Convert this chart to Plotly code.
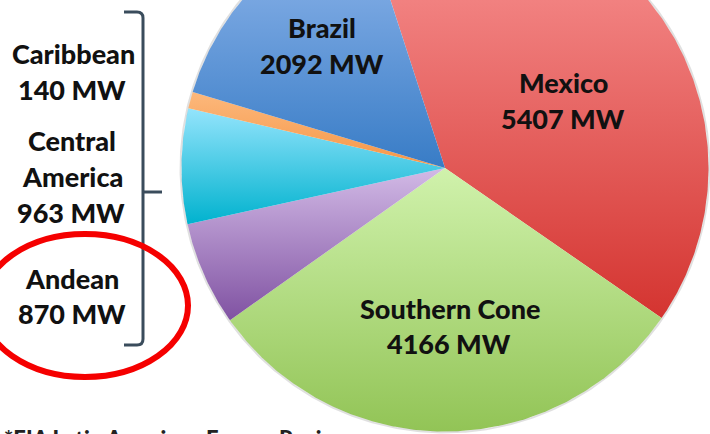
import numpy as np
import plotly.graph_objects as go

# Installed capacity by region (MW), clockwise from the top
regions = ["Mexico", "Southern Cone", "Andean", "Central America", "Caribbean", "Brazil"]
capacity_mw = [5407, 4166, 870, 963, 140, 2092]

# Slice gradients: (light top, dark bottom)
slice_colors = [
    ("rgb(250,152,152)", "rgb(212,52,48)"),
    ("rgb(208,242,172)", "rgb(146,196,86)"),
    ("rgb(210,186,230)", "rgb(128,82,162)"),
    ("rgb(148,228,252)", "rgb(0,178,206)"),
    ("rgb(252,184,124)", "rgb(246,150,70)"),
    ("rgb(150,186,238)", "rgb(56,124,198)"),
]

W, H = 710, 434
CX, CY, R = 445, 168, 263.5      # pie centre and radius in pixels
START_DEG = -18                  # first slice starts 18 deg left of 12 o'clock

fig = go.Figure()

total = sum(capacity_mw)
angle = START_DEG
for name, val, (light, dark) in zip(regions, capacity_mw, slice_colors):
    sweep = 360.0 * val / total
    th = np.radians(np.linspace(angle, angle + sweep, max(int(sweep * 2), 4)))
    xs = np.concatenate([[CX], CX + R * np.sin(th), [CX]])
    ys = np.concatenate([[CY], CY - R * np.cos(th), [CY]])
    fig.add_trace(go.Scatter(
        x=xs, y=ys, mode="lines", fill="toself",
        line=dict(width=0, color=dark),
        # y axis runs downward, so the low end of the scale is the top of the slice
        fillgradient=dict(type="vertical", colorscale=[[0, dark], [1, light]]),
        hoverinfo="text", text=f"{name}: {val} MW", showlegend=False,
    ))
    angle += sweep

# soft rim around the pie
rim = np.radians(np.linspace(0, 360, 721))
fig.add_trace(go.Scatter(
    x=CX + (R + 1) * np.sin(rim), y=CY - (R + 1) * np.cos(rim), mode="lines",
    line=dict(color="rgba(0,0,0,0.12)", width=2), hoverinfo="skip", showlegend=False,
))

cap = dict(zip(regions, capacity_mw))
FONT = dict(family="Lato, 'Open Sans', sans-serif", size=27, color="#111111", weight=900)

# label lines: (text, x, y)
label_lines = [
    ("Brazil", 322, 27), (f"{cap['Brazil']} MW", 322, 63),
    ("Mexico", 563, 82), (f"{cap['Mexico']} MW", 563, 118),
    ("Southern Cone", 450, 308), (f"{cap['Southern Cone']} MW", 449, 343),
    ("Caribbean", 73, 53), (f"{cap['Caribbean']} MW", 72, 89),
    ("Central", 72, 140), ("America", 72, 176), (f"{cap['Central America']} MW", 71, 212),
    ("Andean", 72, 278), (f"{cap['Andean']} MW", 72, 313),
]
annotations = [
    dict(text=t, x=x, y=y, xref="x", yref="y", showarrow=False,
         xanchor="center", yanchor="middle", font=FONT)
    for t, x, y in label_lines
]
annotations.append(dict(
    text="*EIA Latin American Energy Review", x=2, y=423, xref="x", yref="y",
    showarrow=False, xanchor="left", yanchor="top",
    font=dict(family="Lato, sans-serif", size=22, color="#222222", weight=900),
))

shapes = [
    # bracket grouping the smaller regions
    dict(type="path", xref="x", yref="y",
         path="M 124,12 L 137,12 Q 143,12 143,18 L 143,339 Q 143,345 137,345 L 124,345",
         line=dict(color="rgb(58,76,92)", width=3)),
    dict(type="line", xref="x", yref="y", x0=143, y0=192, x1=162, y1=192,
         line=dict(color="rgb(58,76,92)", width=3)),
    # highlight ring around the Andean label
    dict(type="circle", xref="x", yref="y", x0=-18, y0=234, x1=188, y1=377,
         line=dict(color="rgb(245,0,0)", width=6)),
]

fig.update_layout(
    width=W, height=H, margin=dict(l=0, r=0, t=0, b=0),
    paper_bgcolor="white", plot_bgcolor="white",
    xaxis=dict(range=[0, W], visible=False, fixedrange=True),
    yaxis=dict(range=[H, 0], visible=False, fixedrange=True),
    annotations=annotations, shapes=shapes, showlegend=False,
)

fig.write_html("out.html")
